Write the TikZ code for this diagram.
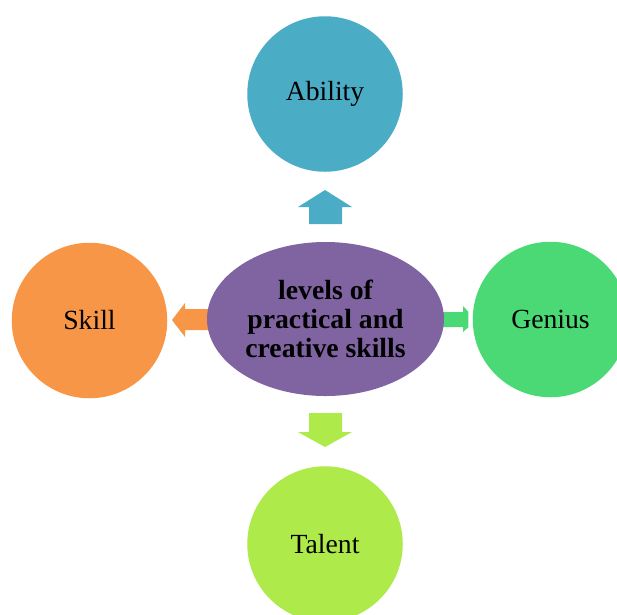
\documentclass[tikz,border=0pt]{standalone}
\usepackage{fontspec}
\usetikzlibrary{shapes.geometric}
\setmainfont{Liberation Serif}
\definecolor{abilityc}{RGB}{75,172,198}
\definecolor{skillc}{RGB}{247,150,70}
\definecolor{geniusc}{RGB}{74,217,117}
\definecolor{talentc}{RGB}{174,234,74}
\definecolor{corec}{RGB}{128,100,162}
\begin{document}
\begin{tikzpicture}[x=1pt,y=-1pt,
  level/.style={circle,minimum size=155.5pt,inner sep=0pt,
    font=\fontsize{27.7}{28.7}\selectfont,text=black},
  core/.style={ellipse,minimum width=237pt,minimum height=154pt,inner sep=0pt,
    fill=corec,align=center,font=\fontsize{27.7}{28.7}\selectfont\bfseries,text=black}]
\useasboundingbox (0,0) rectangle (617,614);
% block arrows pointing out from the centre
\fill[abilityc] (309,224) -- (309,207) -- (298,207) -- (325,190) -- (352,207) -- (342,207) -- (342,224) -- cycle;
\fill[talentc] (309,413) -- (309,432) -- (298,432) -- (325,447) -- (352,432) -- (342,432) -- (342,413) -- cycle;
\fill[skillc] (215,309) -- (185,309) -- (185,303) -- (172,320) -- (185,337) -- (185,330) -- (215,330) -- cycle;
\fill[geniusc] (436,312) -- (463,312) -- (463,306) -- (468.3,311.7) -- (468.3,327.3) -- (463,332) -- (463,327) -- (436,327) -- cycle;
% centre and the four levels
\node[core] (core) at (325.5,319) {levels of\\practical and\\creative skills};
\node[level,fill=abilityc] (ability) at (325,94) {Ability};
\node[level,fill=skillc] (skill) at (89.5,320.5) {Skill};
\node[level,fill=geniusc] (genius) at (550.5,319.5) {Genius};
\node[level,fill=talentc] (talent) at (325,544) {Talent};
\end{tikzpicture}
\end{document}
